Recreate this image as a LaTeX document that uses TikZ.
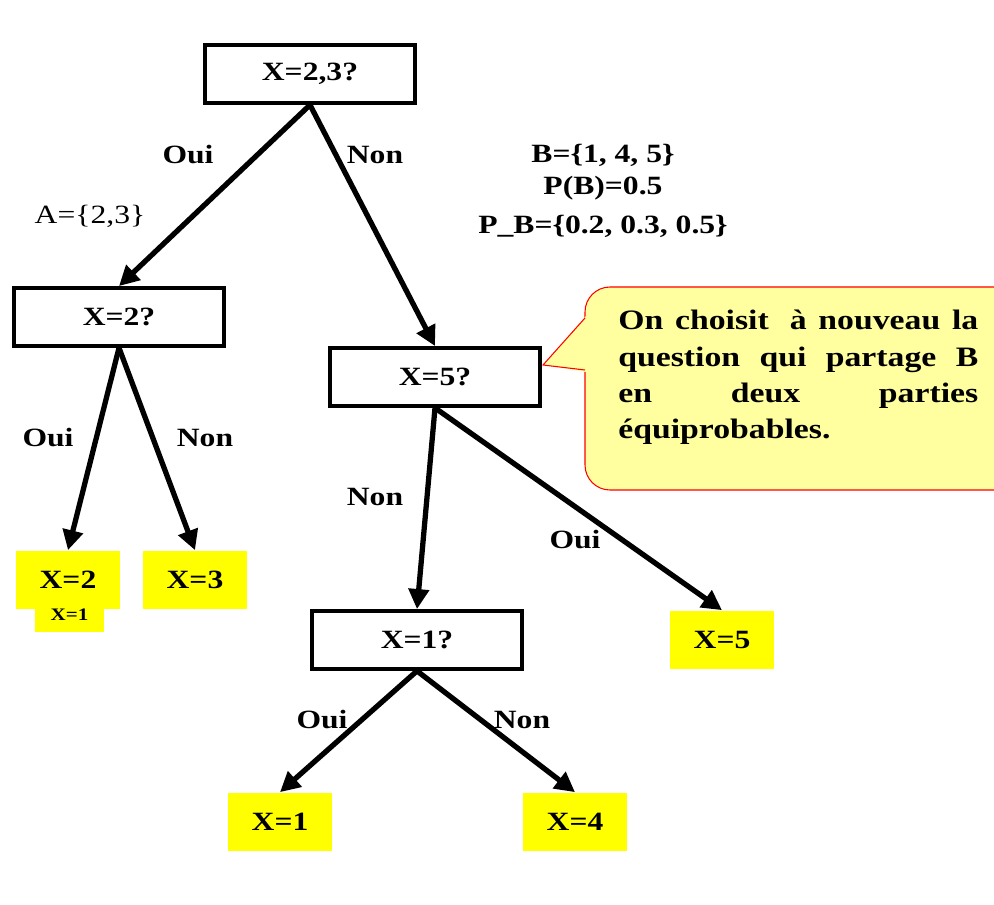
\documentclass[tikz,border=0pt]{standalone}
\usepackage{fontspec}
\setmainfont{Liberation Serif}[FakeStretch=1.2]
\usetikzlibrary{arrows.meta}

\definecolor{leafyellow}{RGB}{255,255,0}
\definecolor{notefill}{RGB}{255,255,160}

\begin{document}
\begin{tikzpicture}[x=0.02cm, y=-0.02cm, >={Triangle[length=0.4cm,width=0.4cm]},
    question/.style={draw, line width=2.2pt, minimum width=4.2cm, minimum height=1.16cm, font=\fontsize{15}{18}\selectfont\bfseries},
    leaf/.style={fill=leafyellow, minimum width=2.1cm, minimum height=1.18cm, font=\fontsize{15}{18}\selectfont\bfseries},
    answer/.style={font=\fontsize{15}{18}\selectfont\bfseries},
    link/.style={->, line width=3pt}]

        % Fix the page size
        \useasboundingbox (0,0) rectangle (994,905);

        % Callout (right side cut by the page edge)
        \begin{scope}
            \clip (0,0) rectangle (994,905);
            \coordinate (tip) at (543,365);
            \draw[red, line width=0.6pt, fill=notefill, rounded corners=0.5cm] (585,287) rectangle (1040,490);
            \fill[notefill] (tip) -- (586,316) -- (586,372) -- cycle;
            \draw[red, line width=0.6pt] (585,318) -- (tip) -- (585,370);
        \end{scope}
        \node[anchor=north west, inner sep=0pt, text width=7.2cm, align=left,
              font=\fontsize{16}{20.6}\selectfont\bfseries] (note) at (618,310)
            {\makebox[7.2cm][l]{On \hfill choisit \ \hfill à \hfill nouveau \hfill la}\\
             \makebox[7.2cm][l]{question \hfill qui \hfill partage \hfill B}\\
             \makebox[7.2cm][l]{en \hfill deux \hfill parties}\\
             équiprobables.};

        % Questions
        \node[question] (root) at (310,74) {X=2,3?};
        \node[question] (q2) at (119,317) {X=2?};
        \node[question] (q5) at (435,377) {X=5?};
        \node[question] (q1) at (417,640) {X=1?};

        % Leaves
        \node[leaf] (l2) at (68,580) {X=2};
        \node[fill=leafyellow, minimum width=1.38cm, minimum height=0.68cm, inner sep=0pt,
              font=\fontsize{10}{12}\selectfont\bfseries] (l2x) at (69.5,615) {X=1};
        \node[leaf] (l3) at (195,580) {X=3};
        \node[leaf] (l5) at (722,640) {X=5};
        \node[leaf] (l1) at (280,822) {X=1};
        \node[leaf] (l4) at (575,822) {X=4};

        % Branches
        \draw[link] (root.south) -- (q2.north);
        \draw[link] (root.south) -- (q5.north);
        \draw[link] (q2.south) -- (l2.north);
        \draw[link] (q2.south) -- (l3.north);
        \draw[link] (q5.south) -- (q1.north);
        \draw[link] (q5.south) -- (l5.north);
        \draw[link] (q1.south) -- (l1.north);
        \draw[link] (q1.south) -- (l4.north);

        % Branch labels
        \node[answer] (a1) at (188,155) {Oui};
        \node[answer] (a2) at (375,155) {Non};
        \node[answer] (a3) at (48,438) {Oui};
        \node[answer] (a4) at (205,438) {Non};
        \node[answer] (a5) at (375,497) {Non};
        \node[answer] (a6) at (575,540) {Oui};
        \node[answer] (a7) at (322,720) {Oui};
        \node[answer] (a8) at (522,720) {Non};

        % Sets and probabilities
        \node[font=\fontsize{15}{18}\selectfont] (setA) at (90,216) {A=\{2,3\}};
        \node[answer, align=center] (setB) at (603,191)
            {B=\{1, 4, 5\}\\ P(B)=0.5\\[4pt] P\_B=\{0.2, 0.3, 0.5\}};

    \end{tikzpicture}
\end{document}
